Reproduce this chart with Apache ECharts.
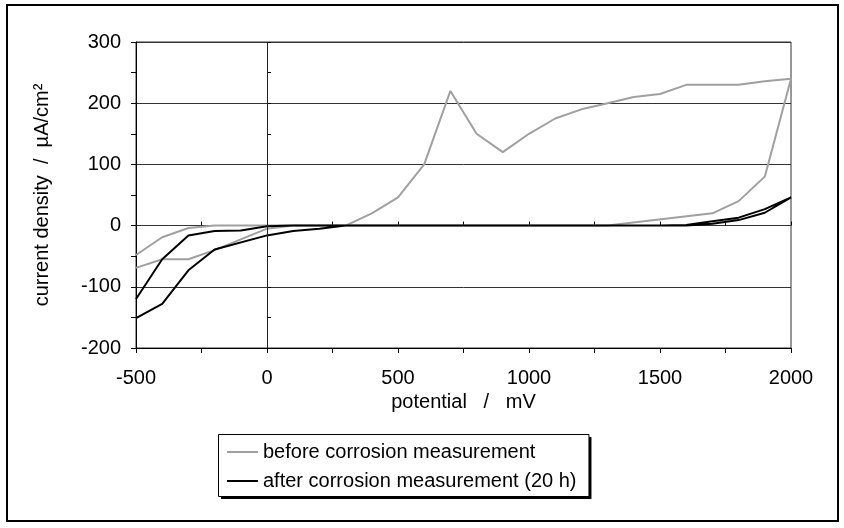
<!DOCTYPE html>
<html>
<head>
<meta charset="utf-8">
<script src="https://cdn.jsdelivr.net/npm/echarts@6/dist/echarts.min.js"></script>
<style>
  html, body { margin: 0; padding: 0; background: #fff; }
  #chart { width: 844px; height: 528px; }
</style>
</head>
<body>
<div id="chart"></div>
<script>
// Cyclic polarisation curves, potential sweep -500 -> 2000 -> -500 mV
const xTicks = [-500, 0, 500, 1000, 1500, 2000];
const yTicks = [-200, -100, 0, 100, 200, 300];

const seriesNames = ['before corrosion measurement', 'after corrosion measurement (20 h)'];

// before corrosion measurement (grey)
const potentialBefore = [-500, -400, -300, -200, 0, 100, 300, 400, 500, 600, 700, 800, 900, 1000, 1100, 1200, 1300, 1400, 1500, 1600, 1800, 1900, 2000,
                         1900, 1800, 1700, 1300, -200, -300, -400, -500];
const currentBefore   = [-69, -55, -55, -40, -5, 0, 0, 20, 46, 100, 220, 150, 120, 150, 175, 190, 200, 210, 215, 230, 230, 236, 240,
                         80, 40, 20, 0, 0, -4, -19, -48];

// after corrosion measurement (20 h) (black)
const potentialAfter = [-500, -400, -300, -200, 0, 100, 200, 300, 1500, 1600, 1700, 1800, 1900, 2000,
                        1900, 1800, 1700, 1600, 100, 0, -100, -200, -300, -400, -500];
const currentAfter   = [-151, -128, -73, -39, -16, -9, -5, 0, 0, 1, 7, 13, 27, 46,
                        21, 9, 3, 0, 0, -1, -8, -9, -16, -55, -120];

const pairs = (xs, ys) => xs.map((x, i) => [x, ys[i]]);

const FONT = '"Liberation Sans", Arial, sans-serif';
const FS = 20;
const chart = echarts.init(document.getElementById('chart'), null, { renderer: 'canvas' });

const gridLine = '#333';
const xMin = xTicks[0], xMax = xTicks[xTicks.length - 1];
const yMin = yTicks[0], yMax = yTicks[yTicks.length - 1];

// legend frame geometry (box drawn as graphics so it gets a hard drop shadow)
const LEG = { left: 218, top: 434, padL: 9, padT: 8, padR: 12, iconW: 31, rowH: 20, gap: 9 };
const measure = document.createElement('canvas').getContext('2d');
measure.font = FS + 'px "Liberation Sans", Arial, sans-serif';
const textW = Math.max(...seriesNames.map(n => measure.measureText(n).width));
const legW = LEG.padL + LEG.iconW + 5 + textW + LEG.padR;
const legH = 62;

chart.setOption({
  animation: false,
  backgroundColor: '#fff',
  textStyle: { fontFamily: FONT, color: '#000' },
  graphic: [{
    type: 'rect',
    shape: { x: 7, y: 5, width: 831, height: 516 },
    style: { fill: 'none', stroke: '#000', lineWidth: 2 },
    silent: true, z: 0
  }, {
    type: 'rect',
    shape: { x: LEG.left + 3, y: LEG.top + 3, width: legW, height: legH },
    style: { fill: '#000' },
    silent: true, z: 1
  }, {
    type: 'rect',
    shape: { x: LEG.left + 0.5, y: LEG.top + 0.5, width: legW, height: legH },
    style: { fill: '#fff', stroke: '#000', lineWidth: 1 },
    silent: true, z: 2
  }],
  grid: {
    left: 136, right: 53, top: 42, bottom: 180,
    show: true, borderColor: gridLine, borderWidth: 1, backgroundColor: 'transparent'
  },
  legend: {
    orient: 'vertical',
    left: LEG.left, top: LEG.top,
    padding: [LEG.padT, LEG.padR, 4, LEG.padL],
    itemWidth: LEG.iconW, itemHeight: 2, itemGap: LEG.gap,
    icon: 'rect',
    z: 10,
    textStyle: { fontFamily: FONT, fontSize: FS, color: '#000', lineHeight: LEG.rowH },
    data: seriesNames
  },
  xAxis: [{
    type: 'value', min: xMin, max: xMax, interval: 500,
    name: 'potential   /   mV', nameLocation: 'middle', nameGap: 35,
    nameTextStyle: { fontFamily: FONT, fontSize: FS, color: '#000' },
    axisLine: { show: true, onZero: false, lineStyle: { color: '#000', width: 1 } },
    axisTick: { show: true, inside: false, length: 5, lineStyle: { color: '#000' } },
    minorTick: { show: true, splitNumber: 2, length: 5, lineStyle: { color: '#000' } },
    axisLabel: { fontFamily: FONT, fontSize: FS, color: '#000', margin: 20, formatter: v => String(v) },
    splitLine: { show: false }
  }, {
    type: 'value', min: xMin, max: xMax, interval: 500, position: 'bottom',
    axisLine: { show: false },
    axisTick: { show: true, inside: true, length: 4, lineStyle: { color: '#000' } },
    minorTick: { show: true, splitNumber: 2, length: 4, lineStyle: { color: '#000' } },
    axisLabel: { show: false },
    splitLine: { show: false }
  }],
  yAxis: [{
    type: 'value', min: yMin, max: yMax, interval: 100,
    name: 'current density  /  µA/cm²', nameLocation: 'middle', nameGap: 84,
    nameTextStyle: { fontFamily: FONT, fontSize: FS, color: '#000' },
    axisLine: { show: true, onZero: false, lineStyle: { color: '#000', width: 1 } },
    axisTick: { show: true, inside: false, length: 5, lineStyle: { color: '#000' } },
    minorTick: { show: true, splitNumber: 2, length: 5, lineStyle: { color: '#000' } },
    axisLabel: { fontFamily: FONT, fontSize: FS, color: '#000', margin: 15, formatter: v => String(v) },
    splitLine: { show: true, lineStyle: { color: gridLine, width: 1 } }
  }, {
    type: 'value', min: yMin, max: yMax, interval: 100, position: 'left',
    axisLine: { show: false },
    axisTick: { show: true, inside: true, length: 4, lineStyle: { color: '#000' } },
    minorTick: { show: true, splitNumber: 2, length: 4, lineStyle: { color: '#000' } },
    axisLabel: { show: false },
    splitLine: { show: false }
  }],
  series: [{
    name: seriesNames[0],
    type: 'line',
    data: pairs(potentialBefore, currentBefore),
    showSymbol: false, symbol: 'none',
    color: '#a0a0a0',
    lineStyle: { color: '#a0a0a0', width: 2 },
    z: 3,
    markLine: {
      silent: true, symbol: 'none', animation: false,
      label: { show: false },
      lineStyle: { color: '#222', width: 1, type: 'solid' },
      data: [{ xAxis: 0 }]
    }
  }, {
    name: seriesNames[1],
    type: 'line',
    data: pairs(potentialAfter, currentAfter),
    showSymbol: false, symbol: 'none',
    color: '#000',
    lineStyle: { color: '#000', width: 2 },
    z: 4
  }]
});
</script>
</body>
</html>
